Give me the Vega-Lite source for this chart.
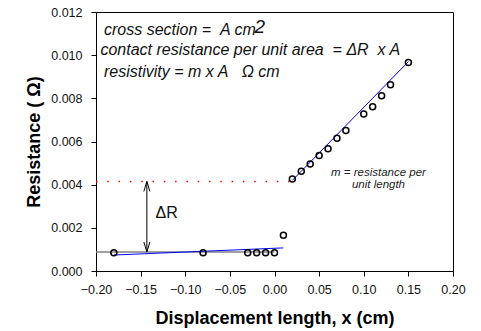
{
  "$schema": "https://vega.github.io/schema/vega-lite/v6.json",
  "width": 357,
  "height": 259,
  "autosize": "none",
  "padding": {"left": 96, "top": 12, "right": 28, "bottom": 60},
  "background": "white",
  "config": {
    "view": {"stroke": "#000000", "strokeWidth": 1},
    "axis": {
      "domainColor": "#000000",
      "tickColor": "#000000",
      "labelColor": "#111111",
      "titleColor": "#000000",
      "labelFont": "Liberation Sans",
      "titleFont": "Liberation Sans",
      "labelFontSize": 12.5,
      "titleFontSize": 18,
      "titleFontWeight": "bold",
      "tickSize": 5,
      "labelOverlap": false,
      "labelFlush": false,
      "grid": false
    },
    "text": {"font": "Liberation Sans"}
  },
  "layer": [
    {
      "data": {"values": [{"x": -0.2, "x2": 0.0, "y": 0.00088}]},
      "mark": {"type": "rule", "color": "#808080", "strokeWidth": 1.5},
      "encoding": {
        "x": {"field": "x", "type": "quantitative", "scale": {"domain": [-0.2, 0.2], "nice": false},
              "axis": {"title": "Displacement length, x (cm)", "values": [-0.2, -0.15, -0.1, -0.05, 0, 0.05, 0.1, 0.15, 0.2], "format": ".2f", "labelPadding": 7, "titlePadding": 14}},
        "x2": {"field": "x2"},
        "y": {"field": "y", "type": "quantitative", "scale": {"domain": [0, 0.012], "nice": false},
              "axis": {"title": "Resistance ( Ω)", "values": [0, 0.002, 0.004, 0.006, 0.008, 0.01, 0.012], "format": ".3f", "labelPadding": 9, "titlePadding": 7}}
      }
    },
    {
      "data": {"values": [{"x": -0.2, "x2": 0.018, "y": 0.00415}]},
      "mark": {"type": "rule", "color": "#ff0000", "strokeWidth": 1.5, "strokeDash": [1.5, 9.8]},
      "encoding": {
        "x": {"field": "x", "type": "quantitative"},
        "x2": {"field": "x2"},
        "y": {"field": "y", "type": "quantitative"}
      }
    },
    {
      "data": {"values": [
        {"seg": "low", "x": -0.18, "y": 0.00074},
        {"seg": "low", "x": 0.01, "y": 0.00107},
        {"seg": "high", "x": 0.02, "y": 0.0042},
        {"seg": "high", "x": 0.15, "y": 0.0097}
      ]},
      "mark": {"type": "line", "color": "#0000ff", "strokeWidth": 1},
      "encoding": {
        "x": {"field": "x", "type": "quantitative"},
        "y": {"field": "y", "type": "quantitative"},
        "detail": {"field": "seg"}
      }
    },
    {
      "data": {"values": [{"x": -0.143, "y": 0.00088, "y2": 0.00415}]},
      "mark": {"type": "rule", "color": "#000000", "strokeWidth": 1},
      "encoding": {
        "x": {"field": "x", "type": "quantitative"},
        "y": {"field": "y", "type": "quantitative"},
        "y2": {"field": "y2"}
      }
    },
    {
      "data": {"values": [{"x": -0.143, "y": 0.00415}]},
      "mark": {"type": "point", "shape": "M -1.2 4 L 0 0 L 1.2 4", "filled": false, "size": 25, "color": "#000000", "strokeWidth": 1, "opacity": 1},
      "encoding": {
        "x": {"field": "x", "type": "quantitative"},
        "y": {"field": "y", "type": "quantitative"}
      }
    },
    {
      "data": {"values": [{"x": -0.143, "y": 0.00088}]},
      "mark": {"type": "point", "shape": "M -1.2 -4 L 0 0 L 1.2 -4", "filled": false, "size": 25, "color": "#000000", "strokeWidth": 1, "opacity": 1},
      "encoding": {
        "x": {"field": "x", "type": "quantitative"},
        "y": {"field": "y", "type": "quantitative"}
      }
    },
    {
      "data": {"values": [
        {"x": -0.18, "y": 0.00085},
        {"x": -0.08, "y": 0.00085},
        {"x": -0.03, "y": 0.00085},
        {"x": -0.02, "y": 0.00085},
        {"x": -0.01, "y": 0.00085},
        {"x": 0.0, "y": 0.00085},
        {"x": 0.01, "y": 0.00166},
        {"x": 0.02, "y": 0.00426},
        {"x": 0.03, "y": 0.00462},
        {"x": 0.04, "y": 0.00496},
        {"x": 0.05, "y": 0.00535},
        {"x": 0.06, "y": 0.00566},
        {"x": 0.07, "y": 0.00615},
        {"x": 0.08, "y": 0.00651},
        {"x": 0.10, "y": 0.00727},
        {"x": 0.11, "y": 0.00761},
        {"x": 0.12, "y": 0.00812},
        {"x": 0.13, "y": 0.00863},
        {"x": 0.15, "y": 0.00966}
      ]},
      "mark": {"type": "point", "shape": "circle", "filled": false, "size": 36, "color": "#000000", "strokeWidth": 1.5, "opacity": 1},
      "encoding": {
        "x": {"field": "x", "type": "quantitative"},
        "y": {"field": "y", "type": "quantitative"}
      }
    },
    {
      "data": {"values": [
        {"x": -0.191, "y": 0.01118, "t": "cross section =\u00a0\u00a0A cm"},
        {"x": -0.195, "y": 0.01025, "t": "contact resistance per unit area\u00a0\u00a0= ΔR\u00a0\u00a0x A"},
        {"x": -0.191, "y": 0.00924, "t": "resistivity = m x A\u00a0\u00a0\u00a0Ω cm"}
      ]},
      "mark": {"type": "text", "align": "left", "baseline": "middle", "fontSize": 16, "fontStyle": "italic", "color": "#111111"},
      "encoding": {
        "x": {"field": "x", "type": "quantitative"},
        "y": {"field": "y", "type": "quantitative"},
        "text": {"field": "t"}
      }
    },
    {
      "data": {"values": [{"x": -0.0165, "y": 0.0117, "t": "2"}]},
      "mark": {"type": "text", "align": "center", "baseline": "top", "fontSize": 19, "fontStyle": "italic", "color": "#111111"},
      "encoding": {
        "x": {"field": "x", "type": "quantitative"},
        "y": {"field": "y", "type": "quantitative"},
        "text": {"field": "t"}
      }
    },
    {
      "data": {"values": [
        {"x": 0.1165, "y": 0.00453, "t": "m = resistance per"},
        {"x": 0.1165, "y": 0.00399, "t": "unit length"}
      ]},
      "mark": {"type": "text", "align": "center", "baseline": "middle", "fontSize": 11.5, "fontStyle": "italic", "color": "#222222"},
      "encoding": {
        "x": {"field": "x", "type": "quantitative"},
        "y": {"field": "y", "type": "quantitative"},
        "text": {"field": "t"}
      }
    },
    {
      "data": {"values": [{"x": -0.1333, "y": 0.0027, "t": "ΔR"}]},
      "mark": {"type": "text", "align": "left", "baseline": "middle", "fontSize": 16, "color": "#111111"},
      "encoding": {
        "x": {"field": "x", "type": "quantitative"},
        "y": {"field": "y", "type": "quantitative"},
        "text": {"field": "t"}
      }
    }
  ]
}
